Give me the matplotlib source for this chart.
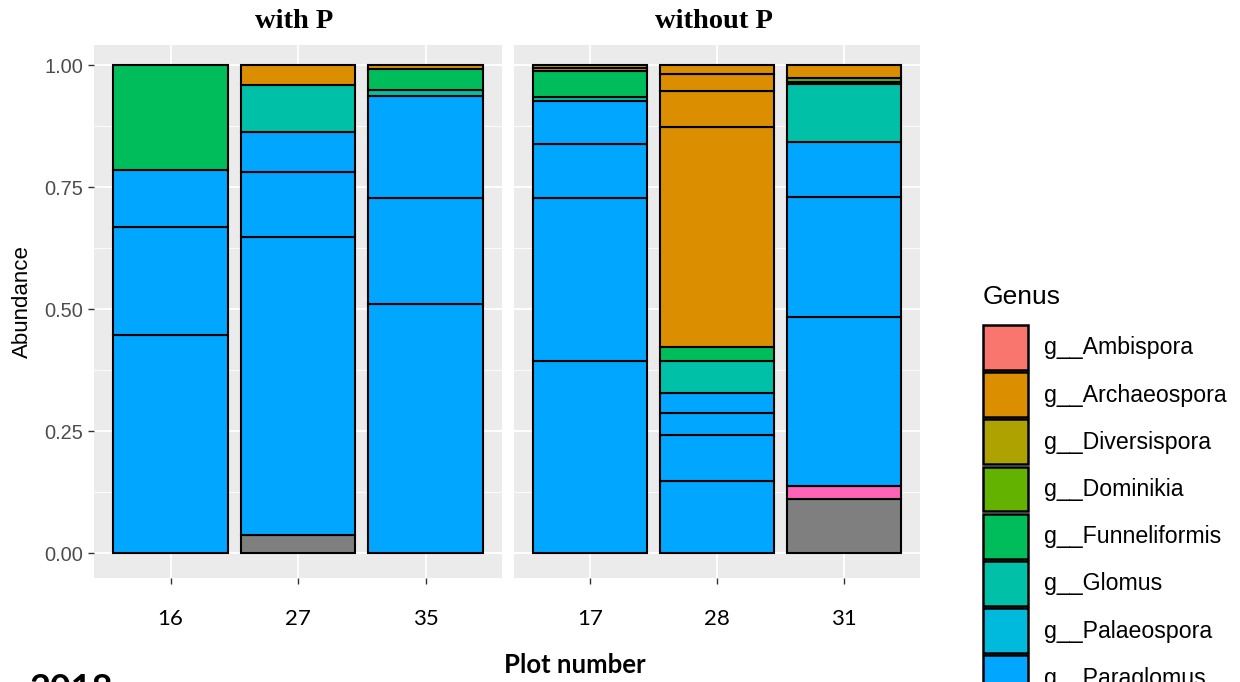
import numpy as np
import matplotlib.pyplot as plt
from matplotlib.patches import Patch

plt.rcParams["font.family"] = ["Liberation Sans", "DejaVu Sans"]

# genus order and ggplot hue colours (11 genera + NA)
genera = ["g__Ambispora", "g__Archaeospora", "g__Diversispora", "g__Dominikia",
          "g__Funneliformis", "g__Glomus", "g__Palaeospora", "g__Paraglomus",
          "g__Rhizophagus", "g__Sclerocystis", "g__Septoglomus", "NA"]
genus_colors = ["#F8766D", "#DB8E00", "#AEA200", "#64B200", "#00BD5C", "#00C1A7",
                "#00BADE", "#00A6FF", "#B385FF", "#EF67EB", "#FF63B6", "#7F7F7F"]

with_p_plots = ["16", "27", "35"]
without_p_plots = ["17", "28", "31"]

# segments per plot, bottom to top
p16_genus = ["g__Paraglomus", "g__Paraglomus", "g__Paraglomus", "g__Funneliformis"]
p16_abund = [0.448, 0.220, 0.118, 0.214]

p27_genus = ["NA", "g__Paraglomus", "g__Paraglomus", "g__Paraglomus", "g__Glomus",
             "g__Archaeospora"]
p27_abund = [0.038, 0.610, 0.133, 0.082, 0.097, 0.040]

p35_genus = ["g__Paraglomus", "g__Paraglomus", "g__Paraglomus", "g__Glomus",
             "g__Funneliformis", "g__Archaeospora"]
p35_abund = [0.511, 0.217, 0.210, 0.012, 0.043, 0.007]

p17_genus = ["g__Paraglomus", "g__Paraglomus", "g__Paraglomus", "g__Paraglomus",
             "g__Glomus", "g__Funneliformis", "g__Archaeospora", "g__Diversispora"]
p17_abund = [0.393, 0.335, 0.111, 0.089, 0.007, 0.053, 0.006, 0.006]

p28_genus = ["g__Paraglomus", "g__Paraglomus", "g__Paraglomus", "g__Paraglomus",
             "g__Glomus", "g__Funneliformis", "g__Archaeospora", "g__Archaeospora",
             "g__Archaeospora", "g__Archaeospora"]
p28_abund = [0.147, 0.096, 0.044, 0.041, 0.066, 0.028, 0.451, 0.074, 0.035, 0.018]

p31_genus = ["NA", "g__Septoglomus", "g__Paraglomus", "g__Paraglomus", "g__Paraglomus",
             "g__Glomus", "g__Diversispora", "g__Dominikia", "g__Archaeospora"]
p31_abund = [0.111, 0.026, 0.347, 0.247, 0.113, 0.119, 0.004, 0.008, 0.025]

with_p_data = [(p16_genus, p16_abund), (p27_genus, p27_abund), (p35_genus, p35_abund)]
without_p_data = [(p17_genus, p17_abund), (p28_genus, p28_abund), (p31_genus, p31_abund)]

color_of = dict(zip(genera, genus_colors))

W, H = 1240, 682
fig = plt.figure(figsize=(W / 100, H / 100), dpi=100)
ax1 = fig.add_axes([94 / W, 104 / H, 408 / W, 533 / H])
ax2 = fig.add_axes([514 / W, 104 / H, 406 / W, 533 / H])


def draw_panel(ax, plots, data):
    ax.set_facecolor("#EBEBEB")
    for s in ax.spines.values():
        s.set_visible(False)
    ax.set_axisbelow(True)
    for i, (gen, ab) in enumerate(data):
        ab = np.array(ab)
        bottoms = np.concatenate([[0], np.cumsum(ab)[:-1]])
        ax.bar([i] * len(ab), ab, bottom=bottoms, width=0.9,
               color=[color_of[g] for g in gen], edgecolor="black", linewidth=1.5)
    ax.set_xlim(-0.6, len(plots) - 0.4)
    ax.set_ylim(-0.051, 1.042)
    ax.set_xticks(range(len(plots)))
    ax.set_xticklabels(plots, family="Lato", fontsize=16)
    ax.set_yticks([0, 0.25, 0.5, 0.75, 1.0])
    ax.set_yticks([0.125, 0.375, 0.625, 0.875], minor=True)
    ax.grid(which="major", color="white", linewidth=1.3)
    ax.grid(which="minor", axis="y", color="white", linewidth=0.6)
    ax.tick_params(axis="x", length=4, width=1, color="#333333", pad=18)
    ax.tick_params(axis="y", which="minor", length=0)


draw_panel(ax1, with_p_plots, with_p_data)
draw_panel(ax2, without_p_plots, without_p_data)

ax1.set_yticklabels(["0.00", "0.25", "0.50", "0.75", "1.00"])
ax1.tick_params(axis="y", length=4.5, width=1, color="#333333", labelsize=14.4,
                labelcolor="#4D4D4D", pad=3)
ax2.tick_params(axis="y", length=0, labelleft=False)

fig.text(22 / W, 1 - 302 / H, "Abundance", rotation=90, ha="center", va="center",
         fontsize=16)
fig.text(294 / W, 1 - 21 / H, "with P", ha="center", va="center",
         family="Liberation Serif", weight="bold", fontsize=20.5)
fig.text(714 / W, 1 - 21 / H, "without P", ha="center", va="center",
         family="Liberation Serif", weight="bold", fontsize=20.5)
fig.text(575 / W, 1 - 665 / H, "Plot number", ha="center", va="center",
         family="Lato", weight="bold", fontsize=18.5)
fig.text(30 / W, 1 - 673 / H, "2018", ha="left", va="top",
         family="Lato", weight="bold", fontsize=26)

# legend: title as its own text, keys below
fig.text(983 / W, 1 - 297 / H, "Genus", ha="left", va="center", fontsize=19)
handles = [Patch(facecolor=c, edgecolor="black", linewidth=1.8) for c in genus_colors]
fig.legend(handles, genera, loc="upper left", bbox_to_anchor=(983 / W, 1 - 325 / H),
           frameon=False, fontsize=16.7, handlelength=1.95, handleheight=2.6,
           labelspacing=0.1, handletextpad=0.7, borderpad=0, borderaxespad=0)

fig.savefig("out.png", dpi=100)
